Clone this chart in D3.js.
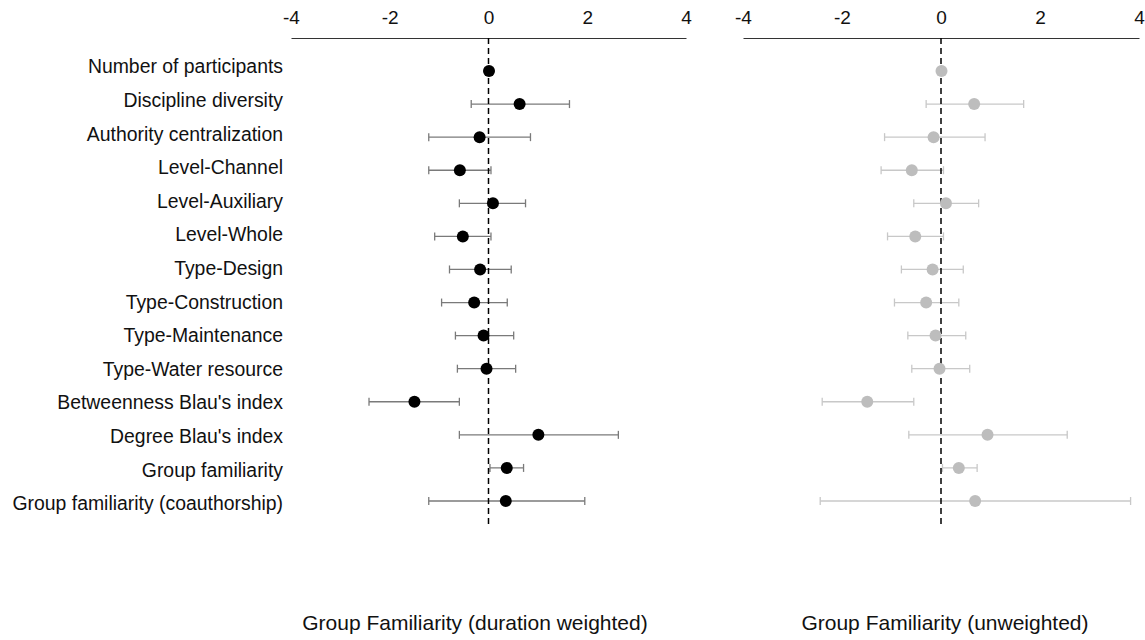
<!DOCTYPE html>
<html>
<head>
<meta charset="utf-8">
<script src="https://cdn.jsdelivr.net/npm/d3@7"></script>
<style>
  body { margin: 0; background: #fff; }
  text { font-family: "Liberation Sans", Arial, sans-serif; }
</style>
</head>
<body>
<div id="chart"></div>
<script>
// Variable names (rows, top to bottom)
const variables = [
  'Number of participants', 'Discipline diversity', 'Authority centralization',
  'Level-Channel', 'Level-Auxiliary', 'Level-Whole', 'Type-Design',
  'Type-Construction', 'Type-Maintenance', 'Type-Water resource',
  "Betweenness Blau's index", "Degree Blau's index", 'Group familiarity',
  'Group familiarity (coauthorship)'
];

// Duration weighted: estimate, lower, upper
const weightedEst = [0.01, 0.63, -0.18, -0.58, 0.09, -0.52, -0.17, -0.29, -0.10, -0.04, -1.50, 1.01, 0.37, 0.35];
const weightedLo  = [-0.07, -0.35, -1.21, -1.21, -0.59, -1.09, -0.79, -0.95, -0.67, -0.63, -2.42, -0.59, 0.03, -1.21];
const weightedHi  = [0.09, 1.64, 0.85, 0.05, 0.75, 0.05, 0.46, 0.38, 0.51, 0.55, -0.59, 2.63, 0.71, 1.95];

// Unweighted
const unweightedEst = [0.01, 0.67, -0.15, -0.59, 0.10, -0.52, -0.17, -0.30, -0.11, -0.03, -1.49, 0.94, 0.36, 0.69];
const unweightedLo  = [-0.07, -0.30, -1.14, -1.21, -0.55, -1.08, -0.80, -0.94, -0.67, -0.59, -2.40, -0.65, 0.03, -2.44];
const unweightedHi  = [0.09, 1.67, 0.89, 0.05, 0.76, 0.05, 0.45, 0.36, 0.50, 0.58, -0.55, 2.55, 0.73, 3.83];

const xTicks = [-4, -2, 0, 2, 4];

const width = 1145, height = 640;
const axisY = 38;

const svg = d3.select('#chart').append('svg')
  .attr('width', width)
  .attr('height', height);

// rows for the marks
const y = d3.scalePoint()
  .domain(variables)
  .range([71, 501]);

// the row labels sit on a slightly different spacing
const yLabel = d3.scalePoint()
  .domain(variables)
  .range([66.5, 503.5]);

// Row labels
svg.append('g')
  .selectAll('text')
  .data(variables)
  .join('text')
  .attr('x', 283)
  .attr('y', d => yLabel(d))
  .attr('dy', '0.35em')
  .attr('text-anchor', 'end')
  .attr('font-size', 19.4)
  .attr('fill', '#111')
  .text(d => d);

const panels = [
  { est: weightedEst, lo: weightedLo, hi: weightedHi, range: [291, 686],
    bar: '#7a7a7a', dot: '#000', title: 'Group Familiarity (duration weighted)', titleX: 475 },
  { est: unweightedEst, lo: unweightedLo, hi: unweightedHi, range: [743, 1139],
    bar: '#c8c8c8', dot: '#bdbdbd', title: 'Group Familiarity (unweighted)', titleX: 945 }
];

panels.forEach(p => {
  const x = d3.scaleLinear().domain([-4, 4]).range(p.range);
  const g = svg.append('g');

  // Top axis
  const axis = g.append('g')
    .attr('transform', `translate(0,${axisY})`)
    .call(d3.axisTop(x).tickValues(xTicks).tickSize(0).tickPadding(14)
      .tickFormat(d => String(d)));
  axis.select('.domain').attr('stroke', '#333');
  axis.selectAll('text').attr('font-size', 19).attr('fill', '#111')
    .style('font-family', '"Liberation Sans", Arial, sans-serif');

  const rows = variables.map((v, i) => ({ v, est: p.est[i], lo: p.lo[i], hi: p.hi[i] }));

  // Error bars
  g.selectAll('.ci')
    .data(rows)
    .join('line')
    .attr('class', 'ci')
    .attr('x1', d => x(d.lo)).attr('x2', d => x(d.hi))
    .attr('y1', d => y(d.v)).attr('y2', d => y(d.v))
    .attr('stroke', p.bar).attr('stroke-width', 1.3);

  ['lo', 'hi'].forEach(k => {
    g.selectAll('.cap-' + k)
      .data(rows)
      .join('line')
      .attr('class', 'cap-' + k)
      .attr('x1', d => x(d[k])).attr('x2', d => x(d[k]))
      .attr('y1', d => y(d.v) - 4).attr('y2', d => y(d.v) + 4)
      .attr('stroke', p.bar).attr('stroke-width', 1.3);
  });

  // Zero reference line
  g.append('line')
    .attr('x1', x(0)).attr('x2', x(0))
    .attr('y1', axisY).attr('y2', 528)
    .attr('stroke', '#000').attr('stroke-width', 1.5)
    .attr('stroke-dasharray', '6,4');

  // Points
  g.selectAll('.dot')
    .data(rows)
    .join('circle')
    .attr('class', 'dot')
    .attr('cx', d => x(d.est))
    .attr('cy', d => y(d.v))
    .attr('r', 6)
    .attr('fill', p.dot);

  // Panel title
  g.append('text')
    .attr('x', p.titleX)
    .attr('y', 623)
    .attr('dy', '0.35em')
    .attr('text-anchor', 'middle')
    .attr('font-size', 21)
    .attr('fill', '#111')
    .text(p.title);
});
</script>
</body>
</html>
